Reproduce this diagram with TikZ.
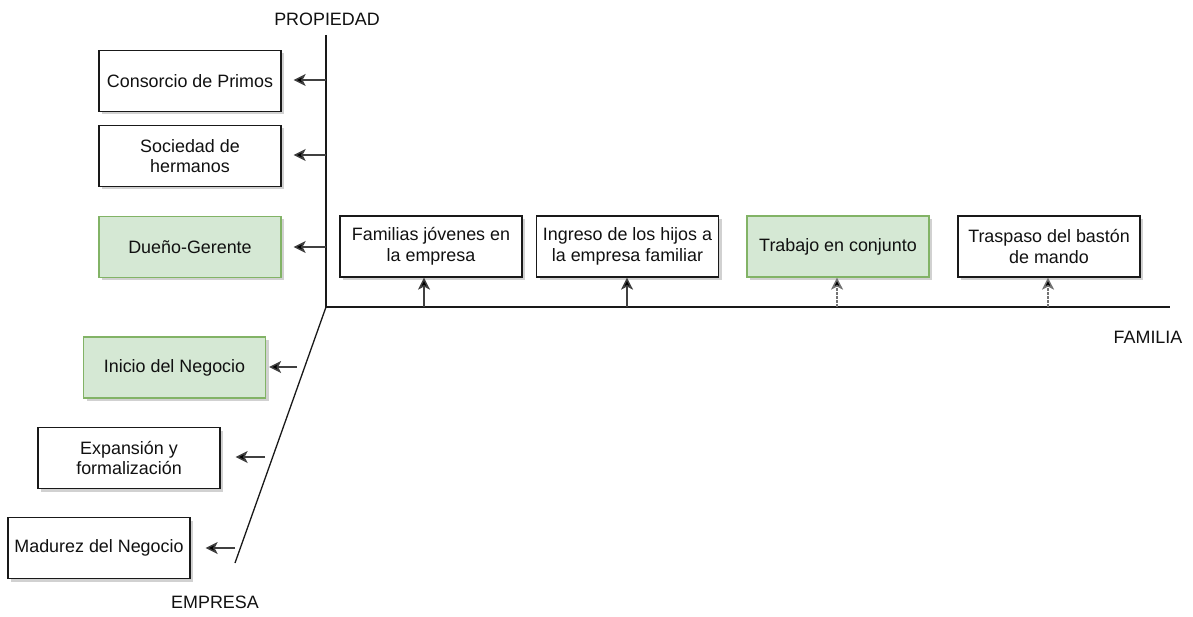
\documentclass[tikz,border=0pt]{standalone}
\usepackage{fontspec}
\setmainfont{Liberation Sans}
\usetikzlibrary{arrows.meta,shadows}
\definecolor{txt}{HTML}{111111}
\definecolor{greenfill}{HTML}{D5E8D4}
\definecolor{greenline}{HTML}{82B366}
\tikzset{
  stage/.style={rectangle, draw=black!90, line width=1.2pt, fill=white,
    minimum width=182pt, minimum height=61pt, inner sep=2pt,
    align=center, text=txt, font=\fontsize{17.9}{20.5}\selectfont,
    drop shadow={shadow xshift=3pt, shadow yshift=-3pt, opacity=0.18, fill=black}},
  current/.style={stage, draw=greenline, fill=greenfill},
  axis/.style={line width=1.3pt, draw=black!90},
  axislabel/.style={text=txt, font=\fontsize{17.9}{20.5}\selectfont, inner sep=0pt},
  pointer/.style={line width=1.5pt, draw=black!75, -{Stealth[length=12pt,width=12pt,inset=3pt,fill=black]}},
  softpointer/.style={pointer, draw=black!55, dash pattern=on 3pt off 1pt}
}
\begin{document}
\begin{tikzpicture}[x=1pt,y=-1pt]
\useasboundingbox[fill=white] (0,0) rectangle (1193,617);

% axes
\coordinate (O) at (326,307);
\coordinate (ptop) at (326,35);
\coordinate (fend) at (1170,307);
\coordinate (eend) at (235,563);
\draw[axis] (ptop) -- (O) -- (fend);
\draw[axis] (O) -- (eend);

\node[axislabel] (lprop) at (327,19) {PROPIEDAD};
\node[axislabel] (lfam) at (1148,337) {FAMILIA};
\node[axislabel] (lemp) at (215,602) {EMPRESA};

% ownership stages
\node[stage] (consorcio) at (190,81) {Consorcio de Primos};
\node[stage] (sociedad) at (190,156) {Sociedad de\\hermanos};
\node[current] (dueno) at (190,247) {Dueño-Gerente};

\coordinate (p1) at (326,80);
\coordinate (p2) at (326,155);
\coordinate (p3) at (326,247);
\draw[pointer, shorten >=12pt] (p1) -- (consorcio.east |- p1);
\draw[pointer, shorten >=12pt] (p2) -- (sociedad.east |- p2);
\draw[pointer, shorten >=12pt] (p3) -- (dueno.east |- p3);

% family stages
\node[stage] (jovenes) at (431,246.5) {Familias jóvenes en\\la empresa};
\node[stage] (ingreso) at (627.5,246.5) {Ingreso de los hijos a\\la empresa familiar};
\node[current] (trabajo) at (838,246.5) {Trabajo en conjunto};
\node[stage] (traspaso) at (1049,246.5) {Traspaso del bastón\\de mando};

\coordinate (f1) at (424,307);
\coordinate (f2) at (627,307);
\coordinate (f3) at (837,307);
\coordinate (f4) at (1048,307);
\draw[pointer] (f1) -- (f1 |- jovenes.south);
\draw[pointer] (f2) -- (f2 |- ingreso.south);
\draw[softpointer] (f3) -- (f3 |- trabajo.south);
\draw[softpointer] (f4) -- (f4 |- traspaso.south);

% business stages
\node[current] (inicio) at (174.5,367.5) {Inicio del Negocio};
\node[stage] (expansion) at (129,458) {Expansión y\\formalización};
\node[stage] (madurez) at (99,548) {Madurez del Negocio};

\coordinate (e1) at (297,367);
\coordinate (e2) at (265,457);
\coordinate (e3) at (235,548);
\draw[pointer, shorten >=3pt] (e1) -- (inicio.east |- e1);
\draw[pointer, shorten >=15pt] (e2) -- (expansion.east |- e2);
\draw[pointer, shorten >=15pt] (e3) -- (madurez.east |- e3);
\end{tikzpicture}
\end{document}
